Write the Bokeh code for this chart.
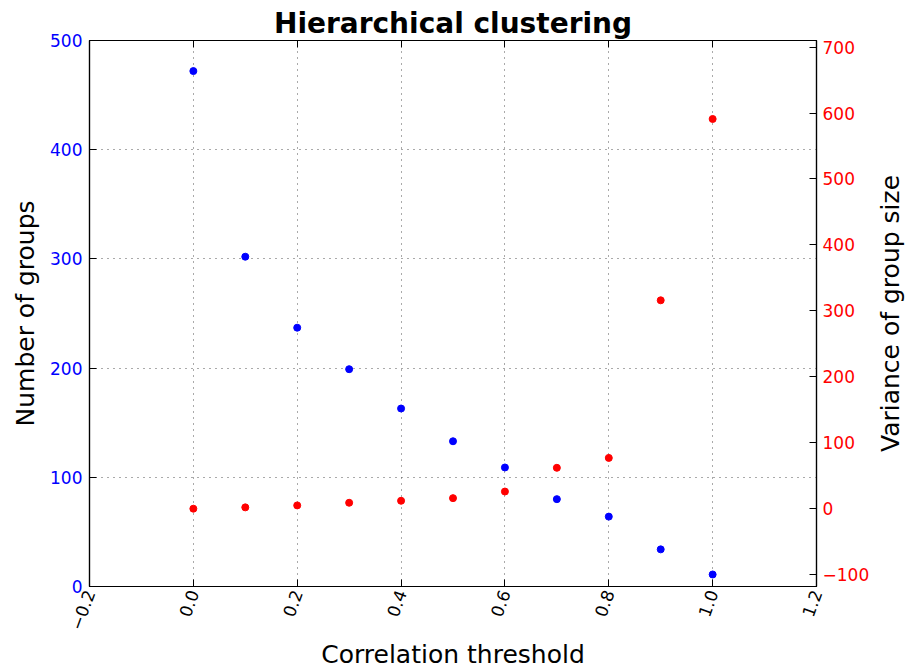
import math
from bokeh.plotting import figure
from bokeh.layouts import row
from bokeh.models import (Range1d, LinearAxis, FixedTicker, CustomJSTickFormatter,
                          ColumnDataSource)
from bokeh.embed import file_html
from bokeh.resources import INLINE

# ---- data ----
thresholds = [0.0, 0.1, 0.2, 0.3, 0.4, 0.5, 0.6, 0.7, 0.8, 0.9, 1.0]
num_groups = [472, 302, 237, 199, 163, 133, 109, 80, 64, 34, 11]
variance = [0, 2, 5, 9, 12, 16, 26, 62, 77, 316, 591]

x_ticks = [-0.2, 0.0, 0.2, 0.4, 0.6, 0.8, 1.0, 1.2]
left_ticks = [0, 100, 200, 300, 400, 500]
right_ticks = [-100, 0, 100, 200, 300, 400, 500, 600, 700]

FONT = "DejaVu Sans"
BLUE = "#0000ff"
RED = "#ff0000"

p = figure(width=872, height=671, output_backend="svg", toolbar_location=None,
           x_range=Range1d(-0.2, 1.2), y_range=Range1d(0, 500),
           min_border_left=89, min_border_right=55, min_border_top=40,
           min_border_bottom=84, x_axis_location=None, y_axis_location=None)
p.extra_y_ranges = {"var": Range1d(-118, 710)}

p.title.text = "Hierarchical clustering"
p.title.align = "center"
p.title.text_font = FONT
p.title.text_font_size = "28px"
p.title.text_font_style = "bold"
p.title.text_color = "black"
p.title.standoff = 2

p.outline_line_color = "black"
p.outline_line_width = 1.2
p.outline_line_alpha = 1
p.background_fill_color = "white"
p.border_fill_color = "white"

fmt1 = CustomJSTickFormatter(code='return (tick < -1e-9 ? "\\u2212" : "") + Math.abs(tick).toFixed(1);')
fmt0 = CustomJSTickFormatter(code='return (tick < -1e-9 ? "\\u2212" : "") + Math.abs(tick).toFixed(0);')

def style(ax, color):
    ax.axis_line_color = "black"
    ax.axis_line_width = 1.2
    ax.major_tick_in = 7
    ax.major_tick_out = 0
    ax.minor_tick_line_color = None
    ax.major_tick_line_color = "black"
    ax.major_label_text_font = FONT
    ax.major_label_text_font_size = "17px"
    ax.major_label_text_color = color
    ax.axis_label_text_font = FONT
    ax.axis_label_text_font_size = "25px"
    ax.axis_label_text_font_style = "normal"
    ax.axis_label_text_color = "black"

# bottom axis
xax = LinearAxis(ticker=FixedTicker(ticks=x_ticks), formatter=fmt1,
                 axis_label="Correlation threshold")
style(xax, "black")
xax.major_label_orientation = math.radians(70)
xax.major_label_standoff = 4
xax.axis_label_standoff = 3
p.add_layout(xax, "below")

# top ticks only (labels not drawn)
tax = LinearAxis(ticker=FixedTicker(ticks=x_ticks))
style(tax, None)
tax.major_label_text_font_size = "1px"
tax.major_label_standoff = 0
p.add_layout(tax, "above")

# left axis
lax = LinearAxis(ticker=FixedTicker(ticks=left_ticks), formatter=fmt0,
                 axis_label="Number of groups")
style(lax, BLUE)
lax.major_label_standoff = 7
lax.axis_label_standoff = 7
p.add_layout(lax, "left")

# right axis (ticks + labels)
rax = LinearAxis(y_range_name="var", ticker=FixedTicker(ticks=right_ticks),
                 formatter=fmt0)
style(rax, RED)
rax.major_label_standoff = 6
p.add_layout(rax, "right")

# grid
p.xgrid.ticker = FixedTicker(ticks=x_ticks)
p.ygrid.ticker = FixedTicker(ticks=left_ticks)
for g in (p.xgrid, p.ygrid):
    g.grid_line_color = "#555555"
    g.grid_line_dash = "1 5"
    g.grid_line_width = 1

src = ColumnDataSource(dict(x=thresholds, g=num_groups, v=variance))
p.scatter("x", "g", source=src, size=7, color=BLUE)
p.scatter("x", "v", source=src, size=7, color=RED, y_range_name="var")

# narrow strip carrying the right-hand axis title (reads bottom-to-top, centred)
p2 = figure(width=35, height=671, output_backend="svg", toolbar_location=None,
            x_range=Range1d(0, 1), y_range=Range1d(-118, 710),
            min_border_left=0, min_border_right=0, min_border_top=40,
            min_border_bottom=84, x_axis_location=None, y_axis_location=None)
p2.outline_line_color = None
p2.background_fill_color = "white"
p2.border_fill_color = "white"
p2.grid.visible = False
tax2 = LinearAxis(ticker=FixedTicker(ticks=[]), axis_label="Variance of group size")
style(tax2, None)
tax2.axis_line_color = None
tax2.major_tick_line_color = None
tax2.major_label_text_font_size = "1px"
tax2.major_label_standoff = 0
tax2.axis_label_standoff = 0
p2.add_layout(tax2, "left")

layout = row(p, p2, spacing=0)
open("out.html", "w").write(file_html(layout, INLINE))
